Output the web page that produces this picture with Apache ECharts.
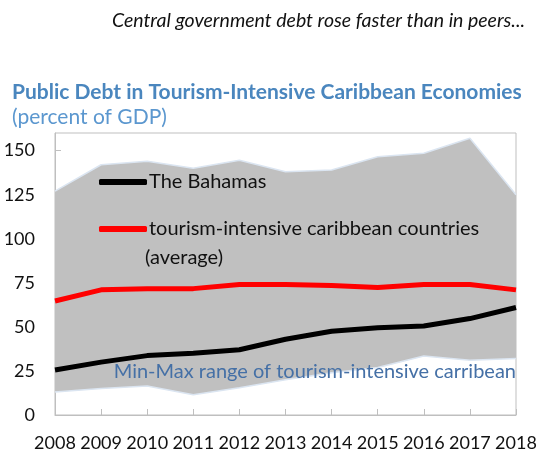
<!DOCTYPE html>
<html><head><meta charset="utf-8">
<script src="https://cdn.jsdelivr.net/npm/echarts@6/dist/echarts.min.js"></script>
<style>html,body{margin:0;padding:0;background:#fff}#c{width:548px;height:457px}</style>
</head><body><div id="c"></div>
<script>
const years = ['2008','2009','2010','2011','2012','2013','2014','2015','2016','2017','2018'];
const rangeMax = [127, 142, 144, 140, 144.5, 138, 139, 146.5, 148.5, 157, 125];
const rangeMin = [13, 15, 16.5, 11.5, 15.5, 20, 24, 27, 33.5, 31, 32];
const bahamas = [25.5, 30, 33.7, 35, 37, 43, 47.5, 49.5, 50.5, 54.7, 61];
const tourismAvg = [64.7, 71, 71.7, 71.7, 74, 74, 73.5, 72.3, 74, 74, 71];
const yTicks = [0, 25, 50, 75, 100, 125, 150];

const FONT = 'Lato';
const chart = echarts.init(document.getElementById('c'), null, {renderer: 'canvas'});
chart.setOption({
  animation: false,
  textStyle: {fontFamily: FONT},
  title: [
    {text: 'Central government debt rose faster than in peers...', left: 107, top: 6,
     textStyle: {fontFamily: FONT, fontStyle: 'italic', fontWeight: 'normal', fontSize: 19.5, color: '#111'}},
    {text: 'Public Debt in Tourism-Intensive Caribbean Economies', left: 7, top: 77,
     textStyle: {fontFamily: FONT, fontWeight: 'bold', fontSize: 21, color: '#4a86be'}},
    {text: '(percent of GDP)', left: 7, top: 102,
     textStyle: {fontFamily: FONT, fontWeight: 'normal', fontSize: 21, color: '#5b97cf'}}
  ],
  grid: {left: 55, right: 32, top: 133, bottom: 42, show: true, borderColor: '#bfbfbf', borderWidth: 1},
  legend: {
    orient: 'vertical', left: 94, top: 167, itemGap: 27, itemWidth: 48, itemHeight: 6,
    icon: 'roundRect', selectedMode: false,
    data: ['The Bahamas', 'tourism-intensive caribbean countries'],
    textStyle: {fontFamily: FONT, fontSize: 20, color: '#111', padding: [0,0,0,-3]}
  },
  xAxis: {
    type: 'category', data: years, boundaryGap: false,
    axisLine: {lineStyle: {color: '#bfbfbf', width: 1}},
    axisTick: {inside: true, length: 6, lineStyle: {color: '#bfbfbf'}},
    axisLabel: {color: '#111', fontSize: 18, margin: 19, fontFamily: FONT, interval: 0}
  },
  yAxis: {
    type: 'value', min: 0, max: 160, interval: 25,
    splitLine: {show: false},
    axisLine: {show: true, lineStyle: {color: '#bfbfbf', width: 1}},
    axisTick: {show: true, inside: true, length: 6, lineStyle: {color: '#bfbfbf'}},
    axisLabel: {color: '#111', fontSize: 18, margin: 20, fontFamily: FONT, showMaxLabel: false,
      formatter: v => yTicks.includes(v) ? String(v) : ''}
  },
  graphic: [
    {type: 'text', right: 32, top: 362, z: 100, style: {text: 'Min-Max range of tourism-intensive carribean',
      font: '20px ' + FONT, fill: '#4570a6'}},
    {type: 'text', left: 145, top: 248, z: 100, style: {text: '(average)', font: '20px ' + FONT, fill: '#111'}}
  ],
  series: [
    {name: 'min', type: 'line', stack: 'band', data: rangeMin, symbol: 'none',
     lineStyle: {color: '#dbe5f1', width: 1.5}, silent: true, z: 1},
    {name: 'range', type: 'line', stack: 'band', data: rangeMax.map((v, i) => +(v - rangeMin[i]).toFixed(2)),
     symbol: 'none', lineStyle: {color: '#dbe5f1', width: 1.5},
     areaStyle: {color: '#c0c0c0', opacity: 1}, silent: true, z: 1},
    {name: 'The Bahamas', type: 'line', data: bahamas, symbol: 'none',
     itemStyle: {color: '#000'}, lineStyle: {color: '#000', width: 5}, z: 3},
    {name: 'tourism-intensive caribbean countries', type: 'line', data: tourismAvg, symbol: 'none',
     itemStyle: {color: '#ff0000'}, lineStyle: {color: '#ff0000', width: 5}, z: 3}
  ]
});
</script></body></html>
